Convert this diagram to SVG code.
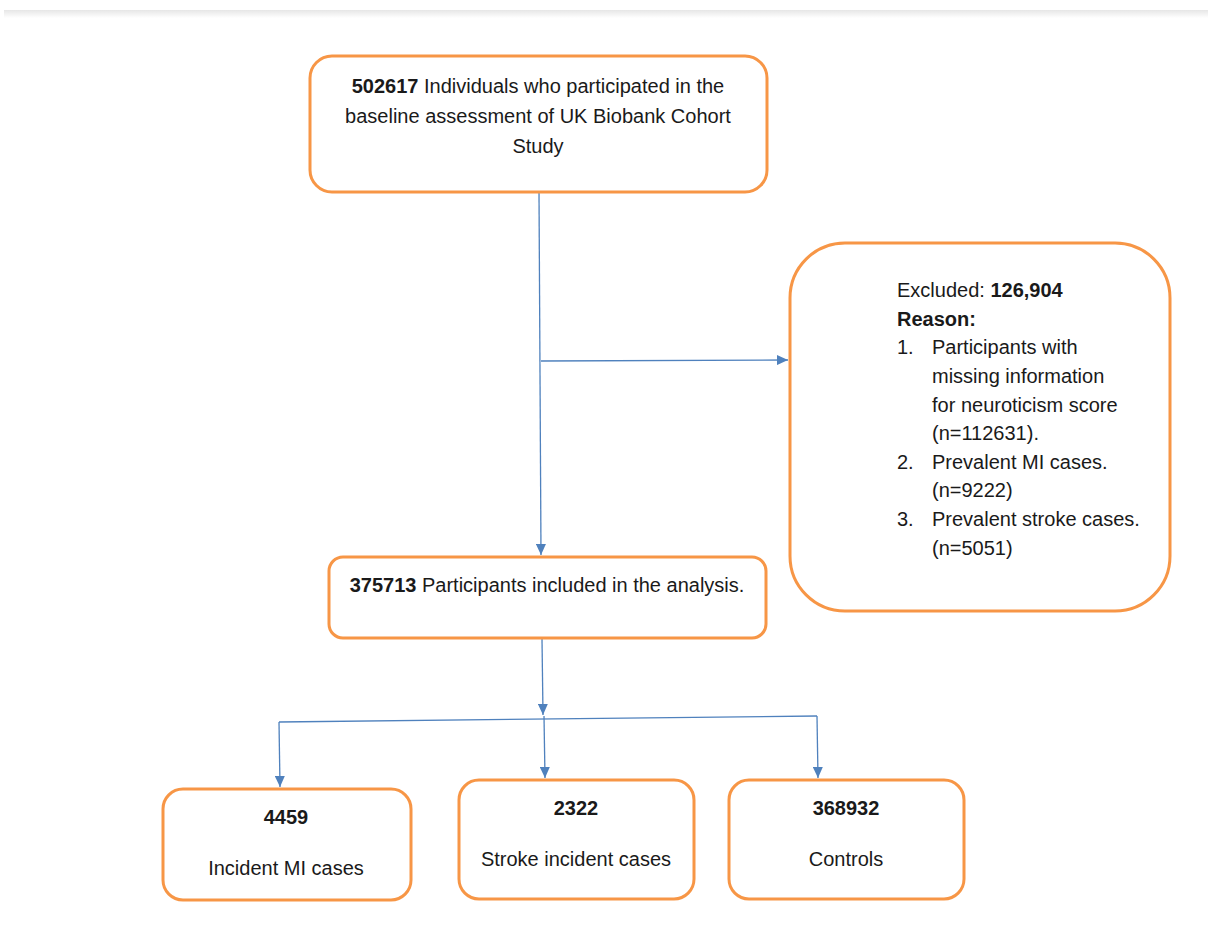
<svg xmlns="http://www.w3.org/2000/svg" width="1208" height="930" viewBox="0 0 1208 930">
<style>
.box{fill:#fff;stroke:#F79646;stroke-width:3}
.t{font-family:"Liberation Sans",Arial,sans-serif;font-size:20px;fill:#1a1a1a}
.c{text-anchor:middle}
.b{font-weight:bold}
.con{fill:none;stroke:#4F81BD;stroke-width:1.3}
</style>
<defs>
<linearGradient id="band" x1="0" y1="0" x2="0" y2="1">
<stop offset="0" stop-color="#e6e6e6"/>
<stop offset="1" stop-color="#ffffff"/>
</linearGradient>
<marker id="arr" viewBox="0 0 11 10" refX="11" refY="5" markerWidth="11" markerHeight="10" markerUnits="userSpaceOnUse" orient="auto">
<path d="M0,0 L11,5 L0,10 z" fill="#4F81BD"/>
</marker>
</defs>
<rect x="0" y="0" width="1208" height="930" fill="#fff"/>
<rect x="4" y="10" width="1204" height="8" fill="url(#band)"/>

<g id="connectors">
<path class="con" d="M539,192 L541,555" marker-end="url(#arr)"/>
<path class="con" d="M541,361 L788,360" marker-end="url(#arr)"/>
<path class="con" d="M542,639 L543,715" marker-end="url(#arr)"/>
<path class="con" d="M279,722 L817,716"/>
<path class="con" d="M279,722 L280,787" marker-end="url(#arr)"/>
<path class="con" d="M544,716 L545,778" marker-end="url(#arr)"/>
<path class="con" d="M817,716 L818,778" marker-end="url(#arr)"/>
</g>

<g id="node-baseline">
<rect class="box" x="310" y="56" width="457" height="136" rx="22"/>
<text class="t c" x="538" y="93"><tspan class="b">502617</tspan> Individuals who participated in the</text>
<text class="t c" x="538" y="123">baseline assessment of UK Biobank Cohort</text>
<text class="t c" x="538" y="153">Study</text>
</g>

<g id="node-excluded">
<rect class="box" x="790" y="243" width="380" height="368" rx="55"/>
<text class="t" x="897" y="297">Excluded: <tspan class="b">126,904</tspan></text>
<text class="t b" x="897" y="326">Reason:</text>
<text class="t" x="897" y="354">1.</text>
<text class="t" x="932" y="354">Participants with</text>
<text class="t" x="932" y="383">missing information</text>
<text class="t" x="932" y="412">for neuroticism score</text>
<text class="t" x="932" y="440">(n=112631).</text>
<text class="t" x="897" y="469">2.</text>
<text class="t" x="932" y="469">Prevalent MI cases.</text>
<text class="t" x="932" y="497">(n=9222)</text>
<text class="t" x="897" y="526">3.</text>
<text class="t" x="932" y="526">Prevalent stroke cases.</text>
<text class="t" x="932" y="555">(n=5051)</text>
</g>

<g id="node-included">
<rect class="box" x="329" y="557" width="437" height="81" rx="14"/>
<text class="t c" x="547" y="592"><tspan class="b">375713</tspan> Participants included in the analysis.</text>
</g>

<g id="node-mi">
<rect class="box" x="163" y="789" width="248" height="111" rx="20"/>
<text class="t c b" x="286" y="824">4459</text>
<text class="t c" x="286" y="875">Incident MI cases</text>
</g>

<g id="node-stroke">
<rect class="box" x="459" y="780" width="235" height="119" rx="20"/>
<text class="t c b" x="576" y="815">2322</text>
<text class="t c" x="576" y="866">Stroke incident cases</text>
</g>

<g id="node-controls">
<rect class="box" x="729" y="780" width="235" height="119" rx="20"/>
<text class="t c b" x="846" y="815">368932</text>
<text class="t c" x="846" y="866">Controls</text>
</g>
</svg>
